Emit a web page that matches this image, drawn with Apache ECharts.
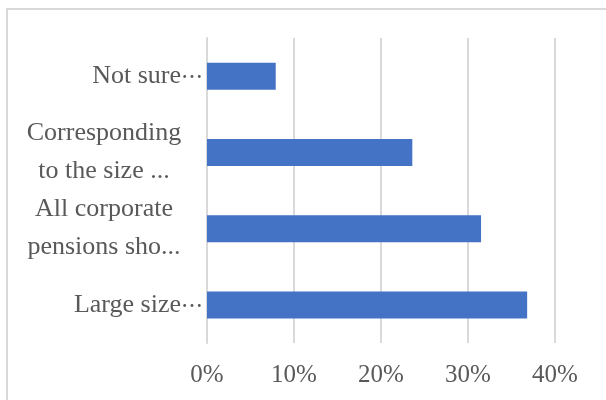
<!DOCTYPE html>
<html>
<head>
<meta charset="utf-8">
<style>
  html, body { margin: 0; padding: 0; background: #ffffff; }
  #chart { width: 606px; height: 400px; }
</style>
<script src="https://cdn.jsdelivr.net/npm/echarts@6/dist/echarts.min.js"></script>
</head>
<body>
<div id="chart"></div>
<script>
// Survey answers, listed bottom to top
var categories = [
  'Large size\u2026',
  'All corporate\npensions sho...',
  'Corresponding\nto the size ...',
  'Not sure\u2026'
];
// Share of respondents (%)
var shares = [36.8, 31.5, 23.6, 7.9];
// Value axis ticks (%)
var tickValues = [0, 10, 20, 30, 40];

var FONT = '"Liberation Serif", "DejaVu Serif", serif';
var GREY_TEXT = '#595959';
var GRID_LINE = '#D9D9D9';

var chart = echarts.init(document.getElementById('chart'), null, { renderer: 'canvas' });

function categoryLabel(value) {
  var lines = value.split('\n');
  if (lines.length > 1) {
    return lines.map(function (l) { return '{w|' + l + '}'; }).join('\n');
  }
  if (value.slice(-1) === '\u2026') {
    return '{t|' + value.slice(0, -1) + '}{e|\u2026}';
  }
  return '{t|' + value + '}';
}

chart.setOption({
  animation: false,
  backgroundColor: '#ffffff',
  // chart-area frame: left and top edges
  graphic: [{
    type: 'polyline',
    shape: { points: [[7, 420], [7, 9], [640, 9]] },
    style: { fill: 'none', stroke: GRID_LINE, lineWidth: 2 },
    silent: true,
    z: -1
  }],
  grid: { left: 207, top: 38, width: 348, height: 305, containLabel: false },
  xAxis: {
    type: 'value',
    min: tickValues[0],
    max: tickValues[tickValues.length - 1],
    interval: 10,
    axisLine: { show: false },
    axisTick: { show: false },
    splitLine: { show: true, lineStyle: { color: GRID_LINE, width: 2 } },
    axisLabel: {
      margin: 20,
      color: GREY_TEXT,
      fontFamily: FONT,
      fontSize: 25,
      formatter: function (v) { return v + '%'; }
    }
  },
  yAxis: {
    type: 'category',
    data: categories,
    axisLine: { show: true, lineStyle: { color: GRID_LINE, width: 2 } },
    axisTick: { show: false },
    axisLabel: {
      margin: 4,
      color: GREY_TEXT,
      fontFamily: FONT,
      fontSize: 26,
      lineHeight: 38,
      formatter: categoryLabel,
      rich: {
        w: { width: 198, align: 'center', fontFamily: FONT, fontSize: 26, lineHeight: 38, color: GREY_TEXT },
        t: { fontFamily: FONT, fontSize: 26, color: GREY_TEXT },
        e: { fontFamily: '"Noto Sans CJK JP", sans-serif', fontSize: 22, color: GREY_TEXT }
      }
    }
  },
  series: [{
    type: 'bar',
    data: shares,
    barWidth: 27,
    itemStyle: { color: '#4472C4' }
  }]
});
</script>
</body>
</html>
